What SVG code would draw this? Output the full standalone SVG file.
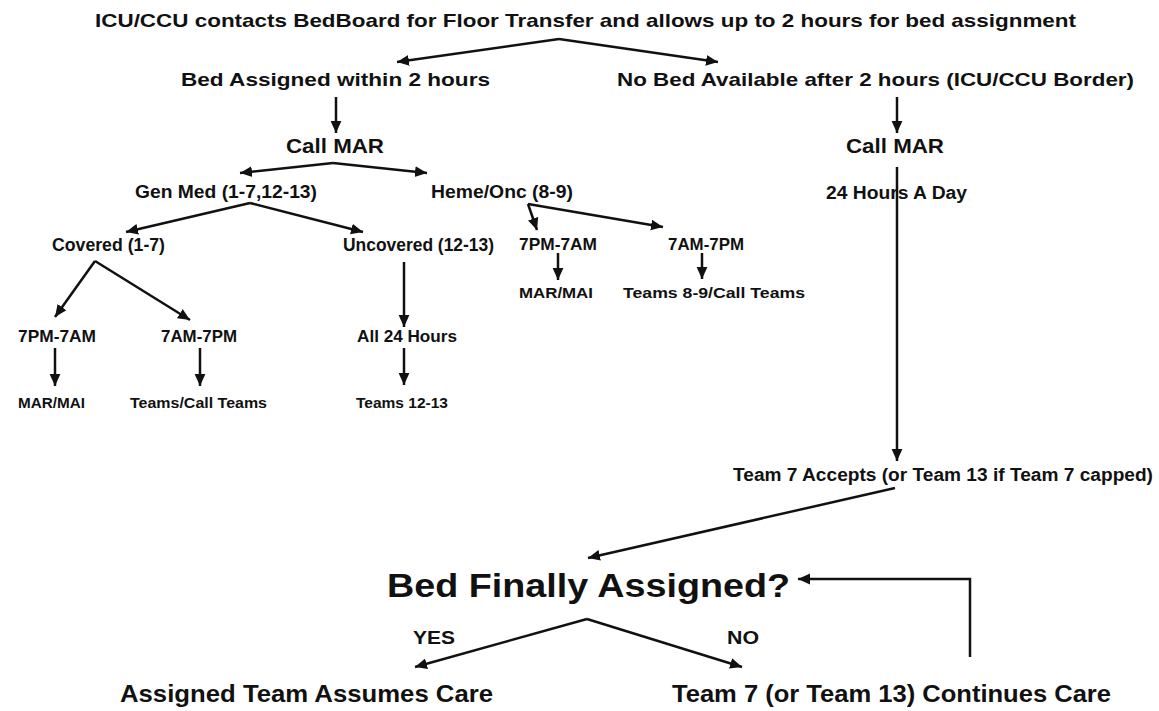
<svg xmlns="http://www.w3.org/2000/svg" width="1159" height="711" viewBox="0 0 1159 711">
<style>
text{font-family:"Liberation Sans",Arial,sans-serif;font-weight:bold;fill:#111;}
.t1{font-size:18.5px;}
.cm{font-size:21px;}
.t3{font-size:18px;}
.t6{font-size:16.5px;}
.t4{font-size:15.5px;}
.big{font-size:33px;}
.yn{font-size:19px;}
.t5{font-size:24px;}
.c line,.c polyline{stroke:#111;stroke-width:2.5;fill:none;marker-end:url(#ah);}
</style>
<defs>
<marker id="ah" markerUnits="userSpaceOnUse" markerWidth="12" markerHeight="12" refX="10" refY="4.5" viewBox="0 0 10 9" orient="auto">
<path d="M0,0 L10,4.5 L0,9 z" fill="#111"/>
</marker>
</defs>
<rect width="1159" height="711" fill="#fff"/>
<g id="n-title"><text class="t1" x="95" y="27" textLength="981" lengthAdjust="spacingAndGlyphs">ICU/CCU  contacts BedBoard for Floor Transfer and allows up to 2 hours for bed assignment</text></g>
<g id="n-assigned"><text class="t1" x="181" y="86" textLength="309" lengthAdjust="spacingAndGlyphs">Bed Assigned within 2 hours</text></g>
<g id="n-nobed"><text class="t1" x="617" y="86" textLength="517" lengthAdjust="spacingAndGlyphs">No Bed Available after 2 hours (ICU/CCU Border)</text></g>
<g id="n-callmar1"><text class="cm" x="286" y="153" textLength="98" lengthAdjust="spacingAndGlyphs">Call MAR</text></g>
<g id="n-callmar2"><text class="cm" x="846" y="153" textLength="98" lengthAdjust="spacingAndGlyphs">Call MAR</text></g>
<g id="n-genmed"><text class="t3" x="135" y="198" textLength="182" lengthAdjust="spacingAndGlyphs">Gen Med (1-7,12-13)</text></g>
<g id="n-hemeonc"><text class="t3" x="431" y="198" textLength="142" lengthAdjust="spacingAndGlyphs">Heme/Onc (8-9)</text></g>
<g id="n-24day"><text class="t3" x="826" y="199" textLength="141" lengthAdjust="spacingAndGlyphs">24 Hours A Day</text></g>
<g id="n-covered"><text class="t3" x="52" y="251" textLength="113" lengthAdjust="spacingAndGlyphs">Covered (1-7)</text></g>
<g id="n-uncovered"><text class="t3" x="343" y="251" textLength="151" lengthAdjust="spacingAndGlyphs">Uncovered (12-13)</text></g>
<g id="n-h7pm"><text class="t6" x="519" y="250" textLength="78" lengthAdjust="spacingAndGlyphs">7PM-7AM</text></g>
<g id="n-h7am"><text class="t6" x="668" y="250" textLength="76" lengthAdjust="spacingAndGlyphs">7AM-7PM</text></g>
<g id="n-hmar"><text class="t4" x="519" y="298" textLength="74" lengthAdjust="spacingAndGlyphs">MAR/MAI</text></g>
<g id="n-hteams"><text class="t4" x="623" y="298" textLength="182" lengthAdjust="spacingAndGlyphs">Teams 8-9/Call  Teams</text></g>
<g id="n-c7pm"><text class="t6" x="18" y="342" textLength="78" lengthAdjust="spacingAndGlyphs">7PM-7AM</text></g>
<g id="n-c7am"><text class="t6" x="161" y="342" textLength="76" lengthAdjust="spacingAndGlyphs">7AM-7PM</text></g>
<g id="n-all24"><text class="t6" x="357" y="342" textLength="100" lengthAdjust="spacingAndGlyphs">All 24 Hours</text></g>
<g id="n-cmar"><text class="t4" x="18" y="408" textLength="67" lengthAdjust="spacingAndGlyphs">MAR/MAI</text></g>
<g id="n-cteams"><text class="t4" x="130" y="408" textLength="137" lengthAdjust="spacingAndGlyphs">Teams/Call  Teams</text></g>
<g id="n-teams1213"><text class="t4" x="356" y="408" textLength="92" lengthAdjust="spacingAndGlyphs">Teams  12-13</text></g>
<g id="n-team7"><text class="t3" x="733" y="481" textLength="420" lengthAdjust="spacingAndGlyphs">Team 7 Accepts (or Team 13 if Team 7 capped)</text></g>
<g id="n-final"><text class="big" x="387" y="597" textLength="403" lengthAdjust="spacingAndGlyphs">Bed Finally Assigned?</text></g>
<g id="n-yes"><text class="yn" x="413" y="644" textLength="42" lengthAdjust="spacingAndGlyphs">YES</text></g>
<g id="n-no"><text class="yn" x="727" y="644" textLength="32" lengthAdjust="spacingAndGlyphs">NO</text></g>
<g id="n-assume"><text class="t5" x="120" y="702" textLength="373" lengthAdjust="spacingAndGlyphs">Assigned Team Assumes Care</text></g>
<g id="n-continue"><text class="t5" x="672" y="702" textLength="439" lengthAdjust="spacingAndGlyphs">Team 7 (or Team 13) Continues Care</text></g>
<g id="connectors" class="c">
<line x1="559" y1="39" x2="397" y2="62"/>
<line x1="559" y1="39" x2="718" y2="62"/>
<line x1="336" y1="97" x2="336" y2="133"/>
<line x1="897" y1="97" x2="897" y2="133"/>
<line x1="333" y1="163" x2="240" y2="173"/>
<line x1="333" y1="163" x2="427" y2="173"/>
<line x1="250" y1="203" x2="126" y2="232"/>
<line x1="250" y1="203" x2="363" y2="232"/>
<line x1="528" y1="204" x2="537" y2="230"/>
<line x1="528" y1="204" x2="663" y2="227"/>
<line x1="558" y1="253" x2="558" y2="280"/>
<line x1="702" y1="253" x2="702" y2="279"/>
<line x1="95" y1="261" x2="55" y2="317"/>
<line x1="95" y1="261" x2="190" y2="320"/>
<line x1="404" y1="262" x2="404" y2="327"/>
<line x1="55" y1="348" x2="55" y2="386"/>
<line x1="200" y1="348" x2="200" y2="386"/>
<line x1="404" y1="348" x2="404" y2="385"/>
<line x1="897" y1="167" x2="897" y2="461"/>
<line x1="895" y1="488" x2="588" y2="558"/>
<polyline points="970,657 970,579 798,579"/>
<line x1="587" y1="619" x2="415" y2="667"/>
<line x1="587" y1="619" x2="742" y2="667"/>
</g>
</svg>
